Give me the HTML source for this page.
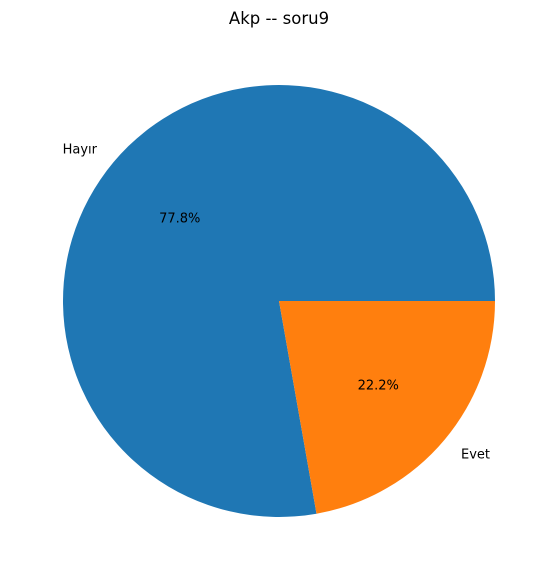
<!DOCTYPE html>
<html><head><meta charset="utf-8"><style>
html,body{margin:0;padding:0;background:#fff;}
svg{display:block;font-family:"DejaVu Sans","Liberation Sans",sans-serif;}
</style></head><body>
<svg id="chart" width="558" height="581" viewBox="0 0 558 581">
<text x="279" y="24" text-anchor="middle" font-size="16.5" fill="#000">Akp -- soru9</text>
<g id="slices"></g>
</svg>
<script>
const categories = ["Hayır", "Evet"];
const values = [7, 2];
const colors = ["#1f77b4", "#ff7f0e"];
const cx = 279, cy = 301, r = 216;
const g = document.getElementById('slices');
const ns = 'http://www.w3.org/2000/svg';
const total = values.reduce((a,b)=>a+b,0);
let start = 0;
values.forEach((v,i)=>{
  const frac = v/total;
  const a0 = start, a1 = start + frac*2*Math.PI;
  const x0 = cx + r*Math.cos(a0), y0 = cy - r*Math.sin(a0);
  const x1 = cx + r*Math.cos(a1), y1 = cy - r*Math.sin(a1);
  const large = frac > 0.5 ? 1 : 0;
  const p = document.createElementNS(ns,'path');
  p.setAttribute('d',`M${cx},${cy} L${x0},${y0} A${r},${r} 0 ${large} 0 ${x1},${y1} Z`);
  p.setAttribute('fill',colors[i]);
  
  
  g.appendChild(p);
  const mid = (a0+a1)/2;
  const lx = cx + 1.1*r*Math.cos(mid), ly = cy - 1.1*r*Math.sin(mid);
  const t = document.createElementNS(ns,'text');
  t.setAttribute('x',lx); t.setAttribute('y',ly+5);
  t.setAttribute('font-size','13');
  t.setAttribute('text-anchor', Math.cos(mid) < 0 ? 'end' : 'start');
  t.textContent = categories[i];
  
  
  g.appendChild(t);
  const px = cx + 0.6*r*Math.cos(mid), py = cy - 0.6*r*Math.sin(mid);
  const pt = document.createElementNS(ns,'text');
  pt.setAttribute('x',px); pt.setAttribute('y',py+5);
  pt.setAttribute('font-size','13');
  pt.setAttribute('text-anchor','middle');
  pt.textContent = (frac*100).toFixed(1)+'%';
  
  
  g.appendChild(pt);
  start = a1;
});
</script>
</body></html>
